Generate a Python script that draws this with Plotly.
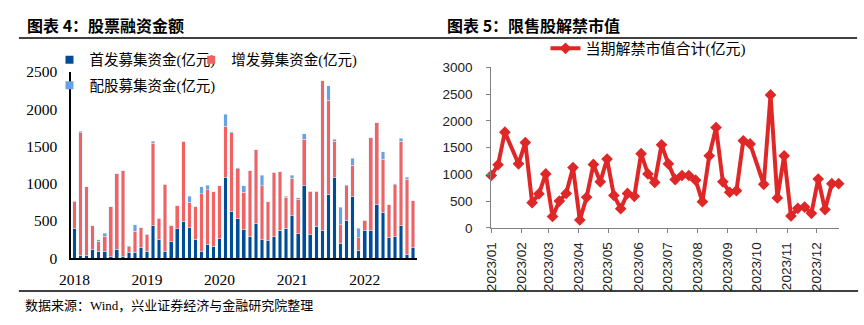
import plotly.graph_objects as go

W, H = 864, 325

# ---------------- Left chart data: 股票融资金额 (monthly, 2018/01 - 2022/09) ----------------
months = [f"{y}-{m:02d}" for y in range(2018, 2023) for m in range(1, 13)][:57]
ipo = [403, 42, 42, 119, 93, 93, 17, 119, 30, 80, 80, 144,
       93, 436, 246, 93, 220, 398, 500, 411, 258, 93, 182, 161,
       265, 1089, 631, 530, 390, 288, 462, 250, 237, 288, 377, 403,
       568, 326, 975, 314, 428, 377, 860, 1089, 199, 504, 835, 106,
       377, 377, 720, 619, 275, 288, 436, 55, 144]
spo = [360, 1640, 920, 318, 132, 204, 674, 1017, 1144, 77, 280, 267,
       229, 1106, 292, 903, 213, 305, 1068, 343, 432, 775, 737, 733,
       710, 682, 1051, 670, 496, 886, 992, 720, 521, 864, 784, 419,
       504, 466, 623, 585, 470, 2008, 1259, 483, 254, 470, 415, 169,
       136, 1241, 1102, 707, 445, 700, 1136, 1008, 627]
rights = [8, 25, 0, 0, 21, 38, 0, 0, 0, 13, 93, 0,
          0, 30, 0, 0, 0, 0, 0, 76, 0, 89, 64, 0,
          0, 165, 17, 17, 89, 0, 0, 144, 0, 0, 0, 13,
          42, 17, 76, 0, 0, 0, 199, 25, 229, 13, 93, 127,
          0, 0, 0, 102, 0, 13, 38, 25, 0]
year_ticks = ["2018-01", "2019-01", "2020-01", "2021-01", "2022-01"]
year_labels = ["2018", "2019", "2020", "2021", "2022"]

# ---------------- Right chart data: 限售股解禁市值 (weekly, 2023) ----------------
weeks = ["2023-01-01", "2023-01-08", "2023-01-15", "2023-01-29", "2023-02-05", "2023-02-12",
         "2023-02-19", "2023-02-26", "2023-03-05", "2023-03-12", "2023-03-19", "2023-03-26",
         "2023-04-02", "2023-04-09", "2023-04-16", "2023-04-23", "2023-04-30", "2023-05-07",
         "2023-05-14", "2023-05-21", "2023-05-28", "2023-06-04", "2023-06-11", "2023-06-18",
         "2023-06-25", "2023-07-02", "2023-07-09", "2023-07-16", "2023-07-23", "2023-07-30",
         "2023-08-06", "2023-08-13", "2023-08-20", "2023-08-27", "2023-09-03", "2023-09-10",
         "2023-09-17", "2023-09-24", "2023-10-08", "2023-10-15", "2023-10-22", "2023-10-29",
         "2023-11-05", "2023-11-12", "2023-11-19", "2023-11-26", "2023-12-03", "2023-12-10",
         "2023-12-17", "2023-12-24"]
unlock = [980, 1181, 1790, 1199, 1595, 472, 638, 1010, 213, 502, 644, 1128,
          148, 573, 1187, 862, 1287, 608, 360, 644, 591, 1388, 1010, 850,
          1553, 1199, 904, 980, 980, 892, 490, 1347, 1878, 862, 667, 697,
          1630, 1571, 815, 2486, 561, 1347, 224, 366, 390, 272, 915, 343,
          827, 827]
month_ticks = [f"2023-{m:02d}-01" for m in range(1, 13)]
month_labels = [f"2023/{m:02d}" for m in range(1, 13)]

C_IPO = "#004c97"
C_SPO = "#f16363"
C_RIG = "#66a3e4"
C_LINE = "#e02727"

SERIF = "Liberation Serif, Noto Sans CJK SC"
SANS = "Liberation Sans, Noto Sans CJK SC"
CJK = "Noto Sans CJK SC"


def px(x):
    return x / W


def py(y):
    return 1 - y / H


fig = go.Figure()

fig.add_trace(go.Bar(x=months, y=ipo, marker_color=C_IPO, width=0.6, showlegend=False,
                     name="首发募集资金(亿元)", xaxis="x", yaxis="y"))
fig.add_trace(go.Bar(x=months, y=spo, marker_color=C_SPO, width=0.6, showlegend=False,
                     name="增发募集资金(亿元)", xaxis="x", yaxis="y"))
fig.add_trace(go.Bar(x=months, y=rights, marker_color=C_RIG, width=0.6, showlegend=False,
                     name="配股募集资金(亿元)", xaxis="x", yaxis="y"))

# legend entries
for name, col, lg in [("首发募集资金(亿元)", C_IPO, "legend"),
                      ("增发募集资金(亿元)", C_SPO, "legend2"),
                      ("配股募集资金(亿元)", C_RIG, "legend3")]:
    fig.add_trace(go.Scatter(x=[None], y=[None], mode="markers", name=name,
                             marker=dict(symbol="square", size=8, color=col),
                             legend=lg, xaxis="x", yaxis="y"))

fig.add_trace(go.Scatter(x=weeks, y=unlock, mode="lines+markers", name="当期解禁市值合计(亿元)",
                         line=dict(color=C_LINE, width=4),
                         marker=dict(symbol="diamond", size=9, color=C_LINE),
                         cliponaxis=False, legend="legend4", xaxis="x2", yaxis="y2"))

leg_common = dict(bgcolor="rgba(0,0,0,0)", borderwidth=0, xanchor="left", yanchor="middle",
                  itemwidth=30, tracegroupgap=0)

fig.update_layout(
    width=W, height=H,
    margin=dict(l=0, r=0, t=0, b=0),
    paper_bgcolor="white", plot_bgcolor="white",
    barmode="stack", bargap=0.4,
    xaxis=dict(domain=[px(60), px(411)], type="category", range=[-0.55, 56.7],
               tickvals=year_ticks, ticktext=year_labels, ticks="",
               showline=True, linecolor="black", linewidth=2, showgrid=False,
               tickfont=dict(family=SERIF, size=15.5, color="black"),
               ticklabelstandoff=6, anchor="y"),
    yaxis=dict(domain=[py(263), py(66.5)], range=[0, 2500], dtick=500, ticks="",
               showline=True, linecolor="black", linewidth=1.5, showgrid=False, zeroline=False,
               tickfont=dict(family=SERIF, size=15.5, color="black"),
               ticklabelstandoff=9, anchor="x"),
    xaxis2=dict(domain=[px(486), px(838.3)], type="date", range=["2023-01-01", "2023-12-24"],
                tickvals=month_ticks, ticktext=month_labels, tickangle=-90,
                ticks="outside", ticklen=4, tickcolor="#808080",
                showline=True, linecolor="#808080", linewidth=1, showgrid=False, zeroline=False,
                tickfont=dict(family=SANS, size=13.5, color="#222"),
                ticklabelstandoff=4, anchor="y2"),
    yaxis2=dict(domain=[py(231), py(61.7)], range=[0, 3000], dtick=500,
                ticks="outside", ticklen=4, tickcolor="#808080",
                showline=True, linecolor="#808080", linewidth=1, showgrid=False, zeroline=False,
                tickfont=dict(family=SANS, size=13.5, color="#222"),
                ticklabelstandoff=11, anchor="x2"),
    legend=dict(x=px(38), y=py(53.5), font=dict(family=SERIF, size=14.5, color="black"), **leg_common),
    legend2=dict(x=px(181.7), y=py(53.5), font=dict(family=SERIF, size=14.5, color="black"), **leg_common),
    legend3=dict(x=px(38), y=py(80.5), font=dict(family=SERIF, size=14.5, color="black"), **leg_common),
    legend4=dict(x=px(541), y=py(41.8), font=dict(family=SERIF, size=15, color="black"), **leg_common),
    shapes=[
        dict(type="line", xref="paper", yref="paper", x0=px(7), x1=px(857), y0=py(30.5), y1=py(30.5),
             line=dict(color="black", width=1.5)),
        dict(type="line", xref="paper", yref="paper", x0=px(7), x1=px(858), y0=py(297.5), y1=py(297.5),
             line=dict(color="black", width=1.5)),
    ],
    annotations=[
        dict(text="<b>图表 4：股票融资金额</b>", xref="paper", yref="paper", x=px(13), y=py(16.5),
             xanchor="left", yanchor="middle", showarrow=False,
             font=dict(family=CJK, size=16, color="black")),
        dict(text="<b>图表 5：限售股解禁市值</b>", xref="paper", yref="paper", x=px(439), y=py(16.5),
             xanchor="left", yanchor="middle", showarrow=False,
             font=dict(family=CJK, size=16, color="black")),
        dict(text="数据来源：Wind，兴业证券经济与金融研究院整理", xref="paper", yref="paper",
             x=px(11), y=py(312.5), xanchor="left", yanchor="middle", showarrow=False,
             font=dict(family=SERIF, size=13, color="black")),
    ],
)

fig.write_html("out.html")
